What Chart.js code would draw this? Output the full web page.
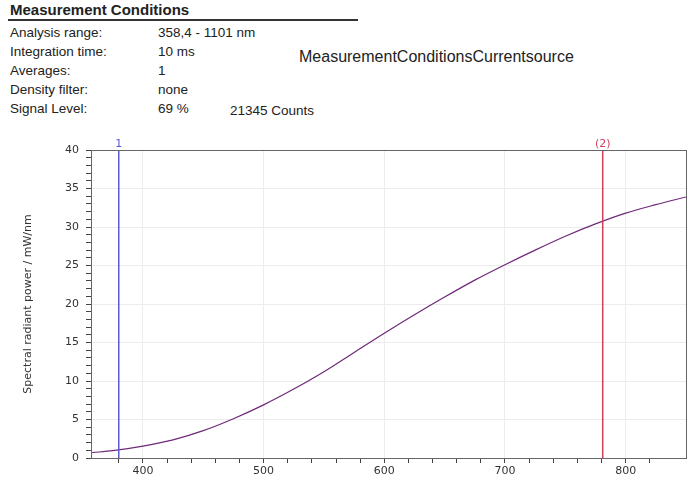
<!DOCTYPE html>
<html>
<head>
<meta charset="utf-8">
<script src="https://cdn.jsdelivr.net/npm/chart.js@4/dist/chart.umd.min.js"></script>
<style>
  body{margin:0;background:#fff;font-family:"Liberation Sans",Arial,sans-serif;color:#222;}
  #wrap{position:relative;width:700px;height:480px;overflow:hidden;}
  .hdr{position:absolute;left:10px;top:1px;font-weight:bold;font-size:15px;}
  .rule{position:absolute;left:8px;top:19px;width:350px;height:2px;background:#333;}
  .row{position:absolute;font-size:13.5px;}
  .big{position:absolute;left:299px;top:48px;font-size:16px;}
  #box{position:absolute;left:0;top:135px;width:700px;height:345px;}
</style>
</head>
<body>
<div id="wrap">
  <div class="hdr">Measurement Conditions</div>
  <div class="rule"></div>
  <div class="row" style="left:10px;top:25px">Analysis range:</div>
  <div class="row" style="left:158px;top:25px">358,4 - 1101 nm</div>
  <div class="row" style="left:10px;top:44px">Integration time:</div>
  <div class="row" style="left:158px;top:44px">10 ms</div>
  <div class="row" style="left:10px;top:63px">Averages:</div>
  <div class="row" style="left:158px;top:63px">1</div>
  <div class="row" style="left:10px;top:82px">Density filter:</div>
  <div class="row" style="left:158px;top:82px">none</div>
  <div class="row" style="left:10px;top:101px">Signal Level:</div>
  <div class="row" style="left:158px;top:101px">69 %</div>
  <div class="row" style="left:230px;top:103px">21345 Counts</div>
  <div class="big">MeasurementConditionsCurrentsource</div>
  <div id="box"><canvas id="chart"></canvas></div>
</div>
<script>
// wavelength (nm) and spectral radiant power (mW/nm)
var wavelengths = [358,375,400,425,450,475,500,525,550,575,600,625,650,675,700,725,750,775,800,825,850];
var power = [0.7,0.95,1.55,2.35,3.55,5.1,6.9,8.95,11.2,13.7,16.2,18.6,20.9,23.1,25.1,27.0,28.8,30.4,31.8,32.9,33.9];
// cursor markers
var markerPos = [380, 781];
var markerText = ['1', '(2)'];
var markerColor = ['#5a5ad0', '#d0405a'];

var xMin = 357, xMax = 850, yMin = 0, yMax = 40;

var curve = wavelengths.map(function(w, i){ return {x: w, y: power[i]}; });

var datasets = [{
  data: curve,
  borderColor: '#6e2a78',
  borderWidth: 1.2,
  pointRadius: 0,
  cubicInterpolationMode: 'monotone',
  order: 2
}];
markerPos.forEach(function(p, i){
  datasets.push({
    data: [{x: p, y: yMin}, {x: p, y: yMax}],
    borderColor: markerColor[i],
    borderWidth: 1.5,
    pointRadius: 0,
    order: 1
  });
});

var framePlugin = {
  id: 'frame',
  afterDraw: function(chart){
    var ctx = chart.ctx, a = chart.chartArea;
    ctx.save();
    ctx.strokeStyle = '#666';
    ctx.lineWidth = 1;
    ctx.strokeRect(a.left + 0.5, a.top + 0.5, a.right - a.left, a.bottom - a.top);
    ctx.font = '11px "DejaVu Sans"';
    ctx.textAlign = 'center';
    ctx.textBaseline = 'bottom';
    markerPos.forEach(function(p, i){
      ctx.fillStyle = markerColor[i];
      ctx.fillText(markerText[i], chart.scales.x.getPixelForValue(p), a.top);
    });
    ctx.restore();
  }
};

var tickFont = {family: '"DejaVu Sans"', size: 11};

new Chart(document.getElementById('chart'), {
  type: 'line',
  data: {datasets: datasets},
  plugins: [framePlugin],
  options: {
    responsive: true,
    maintainAspectRatio: false,
    animation: false,
    layout: {padding: {top: 15, right: 14, bottom: 0, left: 0}},
    plugins: {legend: {display: false}, tooltip: {enabled: false}},
    scales: {
      x: {
        type: 'linear', min: xMin, max: xMax,
        afterBuildTicks: function(ax){ ax.ticks = ax.ticks.filter(function(t){ return t.value % 20 === 0; }); },
        afterFit: function(ax){ ax.height = 22; },
        ticks: {stepSize: 20, autoSkip: false, maxRotation: 0, color: '#333', font: tickFont, padding: 2,
          callback: function(v){ return v % 100 === 0 ? v : ''; }},
        grid: {
          color: function(c){ return c.tick && c.tick.value % 100 === 0 ? '#ececec' : 'rgba(0,0,0,0)'; },
          tickColor: '#444', tickLength: 5
        },
        border: {color: '#666'}
      },
      y: {
        type: 'linear', min: yMin, max: yMax,
        afterFit: function(ax){ ax.width = 91; },
        ticks: {stepSize: 1, autoSkip: false, color: '#333', font: tickFont, padding: 7,
          callback: function(v){ return v % 5 === 0 ? v : ''; }},
        grid: {
          color: function(c){ return c.tick && c.tick.value % 5 === 0 ? '#ececec' : 'rgba(0,0,0,0)'; },
          tickColor: '#444', tickLength: 5
        },
        border: {color: '#666'},
        title: {display: true, text: 'Spectral radiant power / mW/nm', color: '#333',
          font: {family: '"DejaVu Sans"', size: 11}, padding: {top: 22, bottom: 0}}
      }
    }
  }
});
</script>
</body>
</html>
